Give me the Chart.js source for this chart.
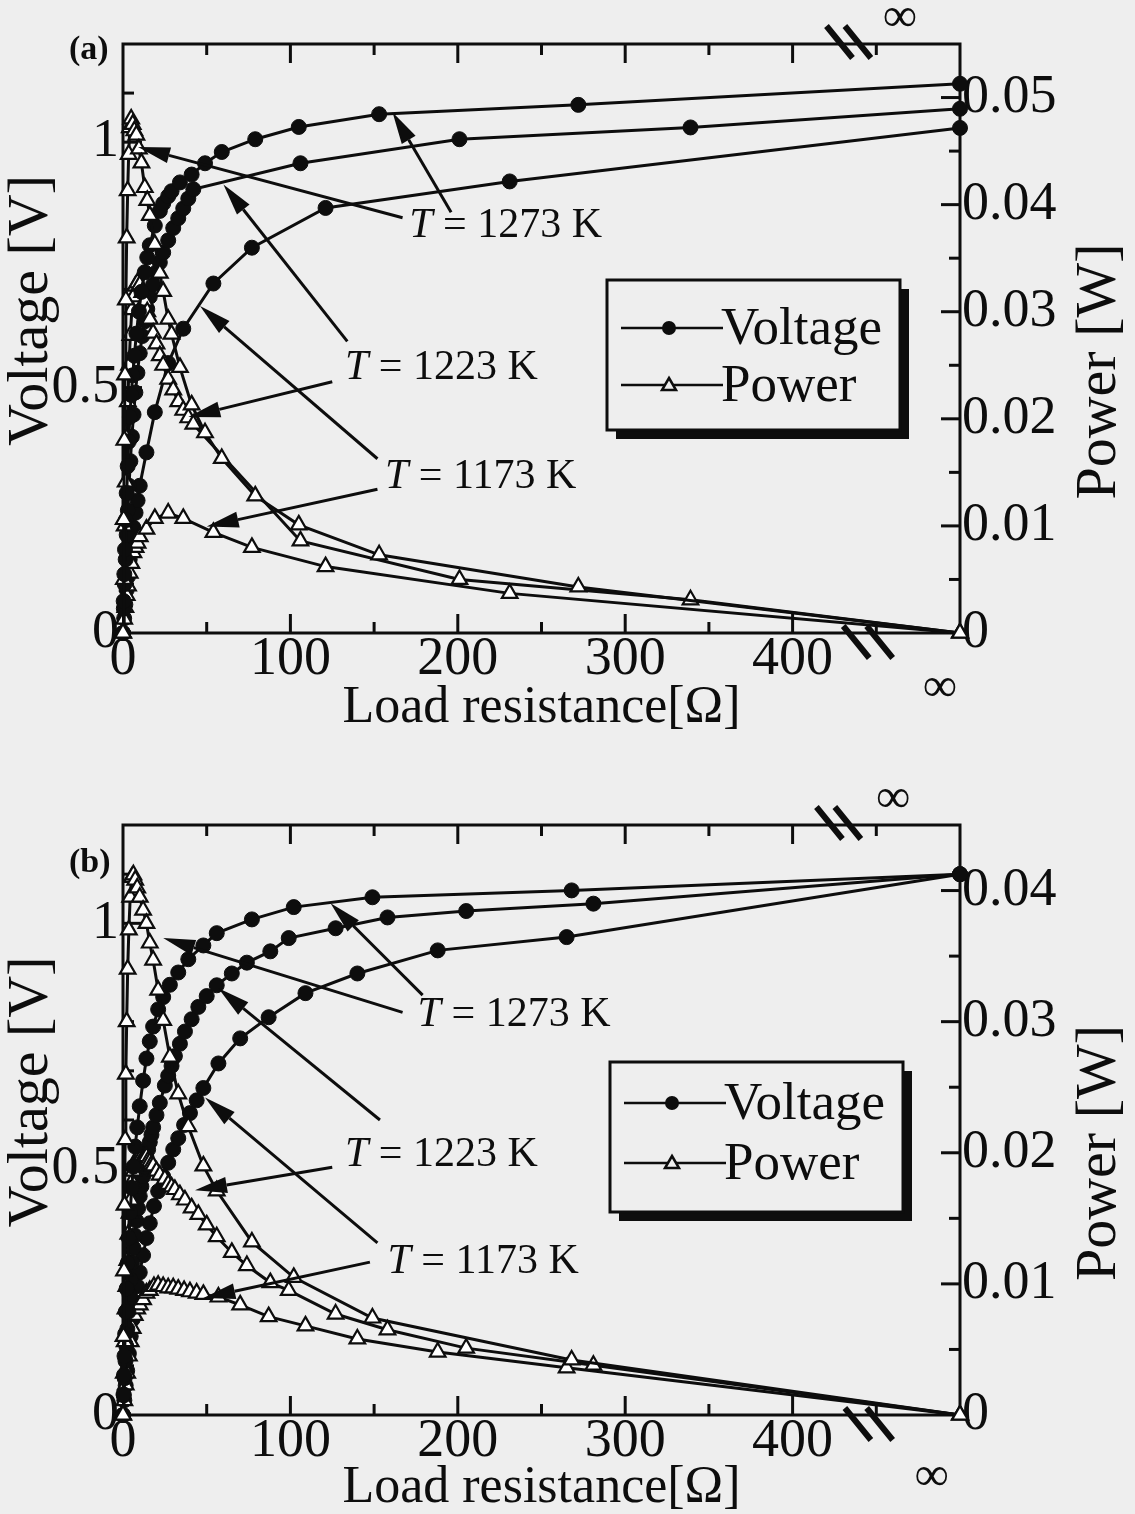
<!DOCTYPE html>
<html>
<head>
<meta charset="utf-8">
<script src="https://cdn.jsdelivr.net/npm/chart.js@4.4.1/dist/chart.umd.min.js"></script>
<style>
  html, body { margin: 0; padding: 0; background: #eeeeee; }
  .panel { width: 1135px; height: 757px; }
</style>
</head>
<body>
<div class="panel"><canvas id="chartA" width="1135" height="757"></canvas></div>
<div class="panel"><canvas id="chartB" width="1135" height="757"></canvas></div>
<script>
// axis labels
const xTicks = [0, 100, 200, 300, 400];
const vTicks = [0, 0.5, 1];
const pTicksA = [0, 0.01, 0.02, 0.03, 0.04, 0.05];
const pTicksB = [0, 0.01, 0.02, 0.03, 0.04];

// (a) load resistance [ohm] (500 = open circuit), voltage [V], power [W]
const rA1273 = [0, 0.4, 0.8, 1.2, 1.7, 2.2, 2.8, 3.4, 4.1, 4.9, 5.8, 6.8, 8, 9.5, 11, 13, 14.5, 16, 19, 22, 24, 27, 29, 34, 41, 49, 59, 79, 105, 153, 272, 500];
const vA1273 = [0, 0.065, 0.12, 0.17, 0.23, 0.285, 0.34, 0.39, 0.44, 0.485, 0.525, 0.565, 0.61, 0.655, 0.695, 0.735, 0.765, 0.79, 0.83, 0.86, 0.875, 0.89, 0.9, 0.918, 0.934, 0.957, 0.98, 1.006, 1.031, 1.057, 1.076, 1.119];
const pA1273 = [0, 0.0106, 0.018, 0.0241, 0.0311, 0.0369, 0.0413, 0.0447, 0.0472, 0.048, 0.0475, 0.0469, 0.0465, 0.0452, 0.0439, 0.0416, 0.0404, 0.039, 0.0363, 0.0336, 0.0319, 0.0293, 0.0279, 0.0248, 0.0213, 0.0187, 0.0163, 0.0128, 0.0101, 0.0073, 0.0043, 0];

const rA1223 = [0, 0.5, 1, 1.6, 2.2, 2.9, 3.6, 4.4, 5.3, 6.3, 7.4, 8.6, 10, 11.5, 13, 14.5, 16, 18, 20, 22, 24, 27, 30, 33, 36, 39, 42, 106, 201, 339, 500];
const vA1223 = [0, 0.05, 0.1, 0.15, 0.2, 0.25, 0.3, 0.35, 0.4, 0.445, 0.49, 0.53, 0.57, 0.605, 0.635, 0.66, 0.685, 0.71, 0.735, 0.755, 0.775, 0.8, 0.825, 0.845, 0.865, 0.885, 0.904, 0.957, 1.006, 1.03, 1.068];
const pA1223 = [0, 0.005, 0.01, 0.0141, 0.0182, 0.0216, 0.025, 0.0278, 0.0302, 0.0314, 0.0324, 0.0327, 0.0325, 0.0318, 0.031, 0.03, 0.0293, 0.028, 0.027, 0.0259, 0.025, 0.0237, 0.0227, 0.0216, 0.0208, 0.0201, 0.0195, 0.0086, 0.005, 0.0031, 0];

const rA1173 = [0, 0.7, 1.4, 2.2, 3, 4, 5, 6.2, 7.5, 8.7, 10, 14, 19, 27, 36, 54, 77, 121, 231, 500];
const vA1173 = [0, 0.03, 0.058, 0.088, 0.115, 0.15, 0.18, 0.215, 0.245, 0.27, 0.3, 0.368, 0.45, 0.55, 0.62, 0.712, 0.785, 0.866, 0.92, 1.029];
const pA1173 = [0, 0.0013, 0.0024, 0.0035, 0.0044, 0.0056, 0.0065, 0.0075, 0.008, 0.0084, 0.009, 0.0097, 0.0107, 0.0112, 0.0107, 0.0094, 0.008, 0.0062, 0.0037, 0];

// (b)
const rB1273 = [0, 0.3, 0.6, 0.9, 1.3, 1.7, 2.2, 2.8, 3.5, 4.3, 5.2, 6.2, 7.3, 8.5, 10, 12, 14, 16, 18, 21, 24, 28, 33, 39, 48, 56, 77, 102, 149, 268, 500];
const vB1273 = [0, 0.042, 0.081, 0.12, 0.165, 0.21, 0.257, 0.309, 0.36, 0.412, 0.462, 0.505, 0.546, 0.585, 0.628, 0.68, 0.725, 0.76, 0.79, 0.825, 0.85, 0.875, 0.9, 0.927, 0.955, 0.98, 1.008, 1.033, 1.053, 1.067, 1.1];
const pB1273 = [0, 0.006, 0.011, 0.016, 0.021, 0.026, 0.03, 0.034, 0.037, 0.0395, 0.041, 0.0412, 0.0408, 0.0402, 0.0395, 0.0385, 0.0375, 0.036, 0.0347, 0.0324, 0.0301, 0.0273, 0.0245, 0.022, 0.019, 0.0171, 0.0132, 0.0105, 0.0074, 0.0042, 0];

const rB1223 = [0, 0.5, 1, 1.5, 2, 2.6, 3.2, 3.9, 4.6, 5.4, 6.2, 7, 8, 9, 10, 11, 12, 13, 14, 15, 16, 17, 18, 20, 22, 25, 27, 29, 31, 34, 37, 41, 45, 50, 56, 65, 74, 88, 99, 127, 158, 205, 281, 500];
const vB1223 = [0, 0.04, 0.075, 0.11, 0.14, 0.175, 0.21, 0.245, 0.275, 0.31, 0.34, 0.365, 0.395, 0.42, 0.445, 0.465, 0.485, 0.505, 0.525, 0.54, 0.555, 0.57, 0.585, 0.61, 0.635, 0.67, 0.69, 0.71, 0.73, 0.755, 0.78, 0.805, 0.83, 0.852, 0.874, 0.898, 0.92, 0.943, 0.97, 0.99, 1.012, 1.025, 1.04, 1.1];
const pB1223 = [0, 0.0032, 0.0056, 0.0081, 0.0098, 0.0118, 0.0138, 0.0154, 0.0164, 0.0178, 0.0186, 0.019, 0.0195, 0.0196, 0.0198, 0.0197, 0.0196, 0.0196, 0.0197, 0.0194, 0.0193, 0.0191, 0.019, 0.0186, 0.0183, 0.018, 0.0176, 0.0174, 0.0172, 0.0168, 0.0164, 0.0158, 0.0153, 0.0145, 0.0136, 0.0124, 0.0114, 0.0101, 0.0095, 0.0077, 0.0065, 0.0051, 0.0038, 0];

const rB1173 = [0, 0.8, 1.6, 2.5, 3.5, 4.6, 5.8, 7, 8.5, 10, 12, 14, 16, 18.5, 21, 24, 27, 30, 33, 36.5, 40, 44, 48, 57, 70, 87, 109, 140, 188, 265, 500];
const vB1173 = [0, 0.03, 0.06, 0.09, 0.125, 0.16, 0.195, 0.23, 0.262, 0.29, 0.325, 0.36, 0.39, 0.425, 0.455, 0.485, 0.513, 0.54, 0.563, 0.59, 0.614, 0.64, 0.665, 0.715, 0.766, 0.809, 0.858, 0.898, 0.945, 0.972, 1.1];
const pB1173 = [0, 0.0011, 0.0023, 0.0032, 0.0045, 0.0056, 0.0066, 0.0076, 0.0081, 0.0084, 0.0088, 0.0093, 0.0095, 0.0098, 0.0099, 0.0098, 0.0097, 0.0097, 0.0096, 0.0095, 0.0094, 0.0093, 0.0092, 0.009, 0.0084, 0.0075, 0.0068, 0.0058, 0.0048, 0.0036, 0];

// arrows / labels in data units (R, V)
const notesA = [
  { temp: '1273', at: [171, 0.83], arrows: [[167, 0.846, 9, 0.99], [196, 0.857, 161, 1.061]] },
  { temp: '1223', at: [132.6, 0.539], arrows: [[134, 0.594, 60, 0.914], [125, 0.512, 39, 0.44]] },
  { temp: '1173', at: [156.5, 0.318], arrows: [[152, 0.355, 46, 0.666], [152, 0.293, 50, 0.217]] }
];
const notesB = [
  { temp: '1273', at: [176, 0.813], arrows: [[167, 0.819, 24, 0.97], [179, 0.854, 124, 1.041]] },
  { temp: '1223', at: [132.6, 0.528], arrows: [[153.5, 0.6, 57, 0.868], [125, 0.504, 43, 0.457]] },
  { temp: '1173', at: [158, 0.311], arrows: [[152, 0.35, 49, 0.646], [147.5, 0.311, 48, 0.238]] }
];

const W = 1135, H = 757;
const FONT = "'Liberation Serif', 'Times New Roman', serif";
const INK = '#0d0d0d';
const BG = '#eeeeee';

function pts(r, v) { return r.map((x, i) => ({ x: x, y: v[i] })); }

function arrow(ctx, x0, y0, x1, y1) {
  const a = Math.atan2(y1 - y0, x1 - x0), L = 32, hw = 8;
  const bx = x1 - L * Math.cos(a), by = y1 - L * Math.sin(a);
  ctx.lineWidth = 3;
  ctx.beginPath(); ctx.moveTo(x0, y0); ctx.lineTo(bx, by); ctx.stroke();
  ctx.beginPath();
  ctx.moveTo(x1, y1);
  ctx.lineTo(bx + hw * Math.sin(a), by - hw * Math.cos(a));
  ctx.lineTo(bx - hw * Math.sin(a), by + hw * Math.cos(a));
  ctx.closePath(); ctx.fill();
}

function tickMarks(ctx, scale, values, majorOf, side, ca) {
  values.forEach(v => {
    const len = majorOf(v) ? 19 : 11;
    const px = scale.getPixelForValue(v);
    ctx.beginPath();
    if (side === 'bottom') { ctx.moveTo(px, ca.bottom); ctx.lineTo(px, ca.bottom - len); }
    if (side === 'top') { ctx.moveTo(px, ca.top); ctx.lineTo(px, ca.top + len); }
    if (side === 'left') { ctx.moveTo(ca.left, px); ctx.lineTo(ca.left + len, px); }
    if (side === 'right') { ctx.moveTo(ca.right, px); ctx.lineTo(ca.right - len, px); }
    ctx.stroke();
  });
}

function breakMarks(ctx, xs, y) {
  ctx.lineWidth = 6;
  xs.forEach(x => {
    ctx.beginPath();
    ctx.moveTo(x - 13, y - 16); ctx.lineTo(x + 13, y + 16);
    ctx.stroke();
  });
}

function i200(v) { return Math.round(v * 200); }

const decor = {
  id: 'decor',
  beforeDatasetsDraw(chart, args, o) {
    const ctx = chart.ctx, ca = chart.chartArea;
    const sx = chart.scales.x, sv = chart.scales.yV, sp = chart.scales.yP;
    ctx.save();
    ctx.strokeStyle = INK;
    ctx.lineWidth = 3;
    ctx.strokeRect(ca.left, ca.top, ca.right - ca.left, ca.bottom - ca.top);
    ctx.lineWidth = 3;
    const xs = []; for (let v = 50; v <= 450; v += 50) xs.push(v);
    tickMarks(ctx, sx, xs, v => v % 100 === 0, 'bottom', ca);
    tickMarks(ctx, sx, xs, v => v % 100 === 0, 'top', ca);
    const vs = []; for (let i = 1; i <= 11; i++) vs.push(i / 10);
    tickMarks(ctx, sv, vs, v => Math.abs(v * 2 - Math.round(v * 2)) < 1e-6, 'left', ca);
    const ps = []; for (let i = 1; i * 0.005 < o.pMax; i++) ps.push(i * 0.005);
    tickMarks(ctx, sp, ps, v => i200(v) % 2 === 0, 'right', ca);
    ctx.restore();
  },
  afterDraw(chart, args, o) {
    const ctx = chart.ctx, ca = chart.chartArea;
    const sx = chart.scales.x, sv = chart.scales.yV;
    ctx.save();
    ctx.fillStyle = INK; ctx.strokeStyle = INK;

    // y titles
    const cy = (ca.top + ca.bottom) / 2;
    ctx.font = `58px ${FONT}`;
    ctx.textAlign = 'center'; ctx.textBaseline = 'middle';
    ctx.save(); ctx.translate(32, cy - 28); ctx.rotate(-Math.PI / 2); ctx.fillText('Voltage [V]', 0, 0); ctx.restore();
    ctx.save(); ctx.translate(1100, cy + 33); ctx.rotate(-Math.PI / 2); ctx.fillText('Power [W]', 0, 0); ctx.restore();

    // panel tag
    ctx.font = `bold 34px ${FONT}`;
    ctx.textAlign = 'left';
    ctx.fillText(o.tag, 69, o.tagY);

    // axis break and infinity
    breakMarks(ctx, o.breakTop.map(v => sx.getPixelForValue(v)), ca.top - 2);
    breakMarks(ctx, o.breakBottom.map(v => sx.getPixelForValue(v)), ca.bottom + 9);
    ctx.font = `48px ${FONT}`;
    ctx.textAlign = 'center';
    ctx.fillText('∞', sx.getPixelForValue(o.infTop), ca.top - 26);
    ctx.fillText('∞', sx.getPixelForValue(o.infBottom), ca.bottom + o.infDy);

    // temperature notes
    o.notes.forEach(n => {
      n.arrows.forEach(a => arrow(ctx, sx.getPixelForValue(a[0]), sv.getPixelForValue(a[1]), sx.getPixelForValue(a[2]), sv.getPixelForValue(a[3])));
      const x = sx.getPixelForValue(n.at[0]), y = sv.getPixelForValue(n.at[1]);
      ctx.textAlign = 'left'; ctx.textBaseline = 'middle';
      ctx.font = `italic 42px ${FONT}`;
      ctx.fillText('T', x, y);
      const w = ctx.measureText('T').width;
      ctx.font = `42px ${FONT}`;
      ctx.fillText(' = ' + n.temp + ' K', x + w, y);
    });

    // legend box with shadow
    const L = o.legend;
    ctx.fillRect(L.x + 9, L.y + L.h, L.w, 9);
    ctx.fillRect(L.x + L.w, L.y + 9, 9, L.h);
    ctx.fillStyle = BG; ctx.fillRect(L.x, L.y, L.w, L.h);
    ctx.fillStyle = INK;
    ctx.lineWidth = 3; ctx.strokeRect(L.x, L.y, L.w, L.h);
    ctx.lineWidth = 2.5;
    [['Voltage', L.row1], ['Power', L.row2]].forEach(([name, ry], i) => {
      ctx.beginPath(); ctx.moveTo(L.x + 14, ry); ctx.lineTo(L.x + 116, ry); ctx.stroke();
      const mx = L.x + 62;
      if (i === 0) {
        ctx.beginPath(); ctx.arc(mx, ry, 7, 0, Math.PI * 2); ctx.fill();
      } else {
        ctx.fillStyle = BG;
        ctx.beginPath(); ctx.moveTo(mx, ry - 7); ctx.lineTo(mx + 7, ry + 5); ctx.lineTo(mx - 7, ry + 5); ctx.closePath();
        ctx.fill(); ctx.stroke();
        ctx.fillStyle = INK;
      }
      ctx.font = `53px ${FONT}`;
      ctx.textAlign = 'left'; ctx.textBaseline = 'middle';
      ctx.fillText(name, L.x + 114, ry + 2);
    });
    ctx.restore();
  }
};

function makeChart(p) {
  const datasets = [];
  p.series.forEach(s => {
    datasets.push({
      label: 'Power ' + s.t, data: pts(s.r, s.p), yAxisID: 'yP', clip: false,
      borderColor: INK, borderWidth: 3, pointStyle: 'triangle', pointRadius: 9,
      pointBackgroundColor: '#ffffff', pointBorderColor: INK, pointBorderWidth: 2.2
    });
    datasets.push({
      label: 'Voltage ' + s.t, data: pts(s.r, s.v), yAxisID: 'yV', clip: false,
      borderColor: INK, borderWidth: 3, pointStyle: 'circle', pointRadius: 7.5,
      pointBackgroundColor: INK, pointBorderColor: INK, pointBorderWidth: 1
    });
  });
  const tickFont = { family: FONT, size: 54, lineHeight: 1 };
  return new Chart(document.getElementById(p.id), {
    type: 'line',
    data: { datasets },
    options: {
      responsive: false,
      animation: false,
      events: [],
      layout: { padding: { top: p.top, left: 0, right: 0, bottom: 0 } },
      plugins: {
        legend: { display: false },
        tooltip: { enabled: false },
        decor: p.decor
      },
      scales: {
        x: {
          type: 'linear', min: 0, max: 500,
          afterBuildTicks: s => { s.ticks = xTicks.map(v => ({ value: v })); },
          afterFit: s => { s.height = H - p.bottom; },
          grid: { display: false, drawTicks: false },
          border: { display: false },
          ticks: { color: INK, font: tickFont, padding: 0, maxRotation: 0, autoSkip: false, callback: v => String(v) },
          title: { display: true, text: 'Load resistance[Ω]', color: INK, font: { family: FONT, size: 52, lineHeight: 1 }, padding: { top: 0, bottom: p.titlePad } }
        },
        yV: {
          type: 'linear', position: 'left', min: 0, max: 1.2,
          afterBuildTicks: s => { s.ticks = vTicks.map(v => ({ value: v })); },
          afterFit: s => { s.width = 123; },
          grid: { display: false, drawTicks: false },
          border: { display: false },
          ticks: { color: INK, font: tickFont, padding: 4, callback: v => String(v) }
        },
        yP: {
          type: 'linear', position: 'right', min: 0, max: p.pMax,
          afterBuildTicks: s => { s.ticks = p.pTicks.map(v => ({ value: v })); },
          afterFit: s => { s.width = W - 960; },
          grid: { display: false, drawTicks: false },
          border: { display: false },
          ticks: { color: INK, font: tickFont, padding: 2, callback: v => (v === 0 ? '0' : v.toFixed(2)) }
        }
      }
    },
    plugins: [decor]
  });
}

makeChart({
  id: 'chartA', top: 44, bottom: 633, titlePad: 23, pMax: 0.055, pTicks: pTicksA,
  series: [
    { t: '1273', r: rA1273, v: vA1273, p: pA1273 },
    { t: '1223', r: rA1223, v: vA1223, p: pA1223 },
    { t: '1173', r: rA1173, v: vA1173, p: pA1173 }
  ],
  decor: {
    tag: '(a)', tagY: 50, pMax: 0.055, notes: notesA,
    breakTop: [428, 439], breakBottom: [438, 452], infTop: 464, infBottom: 488, infDy: 55,
    legend: { x: 607, y: 280, w: 293, h: 150, row1: 328, row2: 385 }
  }
});

makeChart({
  id: 'chartB', top: 68, bottom: 658, titlePad: 0, pMax: 0.045, pTicks: pTicksB,
  series: [
    { t: '1273', r: rB1273, v: vB1273, p: pB1273 },
    { t: '1223', r: rB1223, v: vB1223, p: pB1223 },
    { t: '1173', r: rB1173, v: vB1173, p: pB1173 }
  ],
  decor: {
    tag: '(b)', tagY: 106, pMax: 0.045, notes: notesB,
    breakTop: [422, 433], breakBottom: [439, 452], infTop: 460, infBottom: 483, infDy: 62,
    legend: { x: 610, y: 305, w: 293, h: 150, row1: 346, row2: 406 }
  }
});
</script>
</body>
</html>
